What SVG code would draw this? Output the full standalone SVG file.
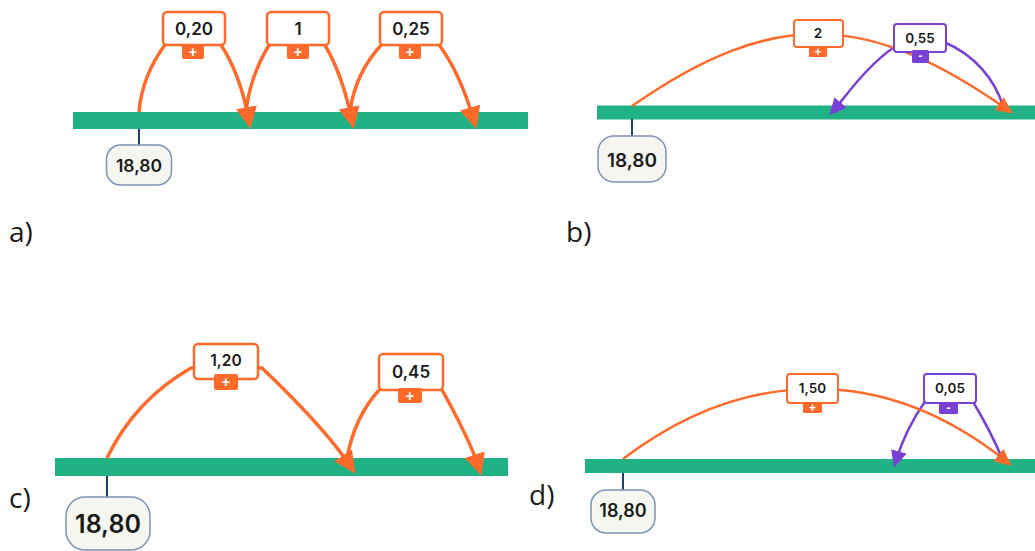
<svg xmlns="http://www.w3.org/2000/svg" width="1035" height="551" viewBox="0 0 1035 551">
<defs>
<style>
.bar{fill:#20b284}
.tick{stroke:#1d3f73;stroke-width:2}
.start rect{fill:#f6f6f0;stroke:#7d93b5;stroke-width:1.5}
.start text{font-family:Inter,"Liberation Sans",sans-serif;font-weight:600;fill:#1a1a1a;text-anchor:middle}
.ob{fill:#fff;stroke:#ff6a2a}
.pb{fill:#fff;stroke:#7940d6}
.val{font-family:Inter,"Liberation Sans",sans-serif;font-weight:600;fill:#1a1a1a;text-anchor:middle}
.badgeO{fill:#ff6a2a}
.badgeP{fill:#7940d6}
.sign{font-family:"Liberation Sans",Arial,sans-serif;font-weight:bold;fill:#fff;text-anchor:middle}
.lbl{font-family:"Open Sans","Liberation Sans",sans-serif;font-size:28px;fill:#1a1a1a}
.co{fill:none;stroke:#ff6a2a}
.cp{fill:none;stroke:#7940d6;stroke-width:2.5}
</style>
<marker id="arrO" viewBox="0 0 22 22" markerWidth="22" markerHeight="22" refX="14" refY="11" orient="auto" markerUnits="userSpaceOnUse"><path d="M0,0.5 L22,11 L0,21.5 z" fill="#ff6a2a"/></marker>
<marker id="arrOs" viewBox="0 0 17 16" markerWidth="17" markerHeight="16" refX="11" refY="8" orient="auto" markerUnits="userSpaceOnUse"><path d="M0,0 L17,8 L0,16 z" fill="#ff6a2a"/></marker>
<marker id="arrP" viewBox="0 0 17 16" markerWidth="17" markerHeight="16" refX="10" refY="8" orient="auto" markerUnits="userSpaceOnUse"><path d="M0,0 L17,8 L0,16 z" fill="#7940d6"/></marker>
</defs>

<!-- number lines -->
<g id="lines">
<rect class="bar" x="73" y="112" width="455" height="17"/>
<rect class="bar" x="597" y="105.5" width="438" height="14"/>
<rect class="bar" x="55" y="458" width="453" height="18"/>
<rect class="bar" x="585" y="459" width="450" height="14"/>
<line class="tick" x1="139" y1="129" x2="139" y2="145"/>
<line class="tick" x1="632" y1="119" x2="632" y2="136"/>
<line class="tick" x1="107" y1="476" x2="107" y2="497"/>
<line class="tick" x1="623" y1="473" x2="623" y2="490"/>
</g>

<!-- connectors -->
<g id="connectors">
<path class="co" stroke-width="3.5" marker-end="url(#arrO)" d="M139,112 Q142,75 167,42 L219,42 Q240,72 249,121"/>
<path class="co" stroke-width="3.5" marker-end="url(#arrO)" d="M246,112 Q250,75 271,42 L323,42 Q342,72 352,121"/>
<path class="co" stroke-width="3.5" marker-end="url(#arrO)" d="M350,112 Q355,72 384,42 L437,42 Q460,72 474,121"/>

<path class="cp" d="M944,42 C975,55 995,80 1003,106"/>
<path class="cp" marker-end="url(#arrP)" d="M896,46 C868,64 846,96 834,110"/>
<path class="co" stroke-width="2.5" marker-end="url(#arrOs)" d="M632,106 C775,6 870,13 1008,110"/>

<path class="co" stroke-width="3.5" marker-end="url(#arrO)" d="M107,458 Q135,400 191,368 L262,368 Q325,428 351,467"/>
<path class="co" stroke-width="3.5" marker-end="url(#arrO)" d="M347,458 Q355,415 381,388 L441,388 Q470,440 479,468"/>

<path class="cp" d="M972,400 Q990,430 1002,458"/>
<path class="cp" marker-end="url(#arrP)" d="M926,400 Q905,430 896,461"/>
<path class="co" stroke-width="2.5" marker-end="url(#arrOs)" d="M623,459 C740,370 880,360 1007,462"/>
</g>

<!-- panel a -->
<g id="a-start" class="start"><rect x="106.5" y="145" width="65" height="40" rx="14"/><text x="139" y="172" font-size="17.5">18,80</text></g>
<g id="a-step1"><rect class="ob" stroke-width="2.5" x="163" y="12" width="62" height="33" rx="4"/><text class="val" x="194" y="35" font-size="17">0,20</text><rect class="badgeO" x="182" y="44" width="22" height="15" rx="2"/><text class="sign" x="193" y="56.5" font-size="15">+</text></g>
<g id="a-step2"><rect class="ob" stroke-width="2.5" x="267" y="12" width="62" height="33" rx="4"/><text class="val" x="298" y="35" font-size="17">1</text><rect class="badgeO" x="287" y="44" width="22" height="15" rx="2"/><text class="sign" x="298" y="56.5" font-size="15">+</text></g>
<g id="a-step3"><rect class="ob" stroke-width="2.5" x="380" y="12" width="62" height="33" rx="4"/><text class="val" x="411" y="35" font-size="17">0,25</text><rect class="badgeO" x="399" y="44" width="22" height="15" rx="2"/><text class="sign" x="410" y="56.5" font-size="15">+</text></g>
<text id="label-a" class="lbl" x="9" y="242">a)</text>

<!-- panel b -->
<g id="b-start" class="start"><rect x="598" y="136" width="68" height="46" rx="16"/><text x="632" y="167" font-size="19">18,80</text></g>
<g id="b-step1"><rect class="ob" stroke-width="2" x="794" y="20" width="49" height="27" rx="3"/><text class="val" x="818" y="38" font-size="13.5">2</text><rect class="badgeO" x="809" y="46" width="18" height="11" rx="1.5"/><text class="sign" x="818" y="55.5" font-size="12">+</text></g>
<g id="b-step2"><rect class="pb" stroke-width="2" x="894" y="24" width="52" height="28" rx="3"/><text class="val" x="920" y="43" font-size="13.5">0,55</text><rect class="badgeP" x="912" y="50" width="17" height="13" rx="1.5"/><text class="sign" x="920.5" y="60" font-size="12">-</text></g>
<text id="label-b" class="lbl" x="566" y="242">b)</text>

<!-- panel c -->
<g id="c-start" class="start"><rect x="66" y="497" width="84" height="53" rx="19"/><text x="108" y="533" font-size="25">18,80</text></g>
<g id="c-step1"><rect class="ob" stroke-width="2.5" x="194" y="344" width="64" height="35" rx="4"/><text class="val" x="226" y="366" font-size="15.5">1,20</text><rect class="badgeO" x="214" y="374" width="24" height="16" rx="2"/><text class="sign" x="226" y="387" font-size="15">+</text></g>
<g id="c-step2"><rect class="ob" stroke-width="2.5" x="379" y="354" width="64" height="36" rx="4"/><text class="val" x="411" y="378" font-size="17">0,45</text><rect class="badgeO" x="398" y="388" width="24" height="15" rx="2"/><text class="sign" x="410" y="400.5" font-size="15">+</text></g>
<text id="label-c" class="lbl" x="9" y="508">c)</text>

<!-- panel d -->
<g id="d-start" class="start"><rect x="591" y="490" width="64" height="43" rx="15"/><text x="623" y="517" font-size="18">18,80</text></g>
<g id="d-step1"><rect class="ob" stroke-width="2" x="787" y="374" width="51" height="29" rx="3"/><text class="val" x="812.5" y="393" font-size="13.5">1,50</text><rect class="badgeO" x="803" y="402" width="19" height="11" rx="1.5"/><text class="sign" x="812.5" y="411.5" font-size="12">+</text></g>
<g id="d-step2"><rect class="pb" stroke-width="2" x="924" y="374" width="52" height="29" rx="3"/><text class="val" x="950" y="393" font-size="13.5">0,05</text><rect class="badgeP" x="939" y="402" width="19" height="12" rx="1.5"/><text class="sign" x="948.5" y="411.5" font-size="12">-</text></g>
<text id="label-d" class="lbl" x="529" y="505">d)</text>
</svg>
